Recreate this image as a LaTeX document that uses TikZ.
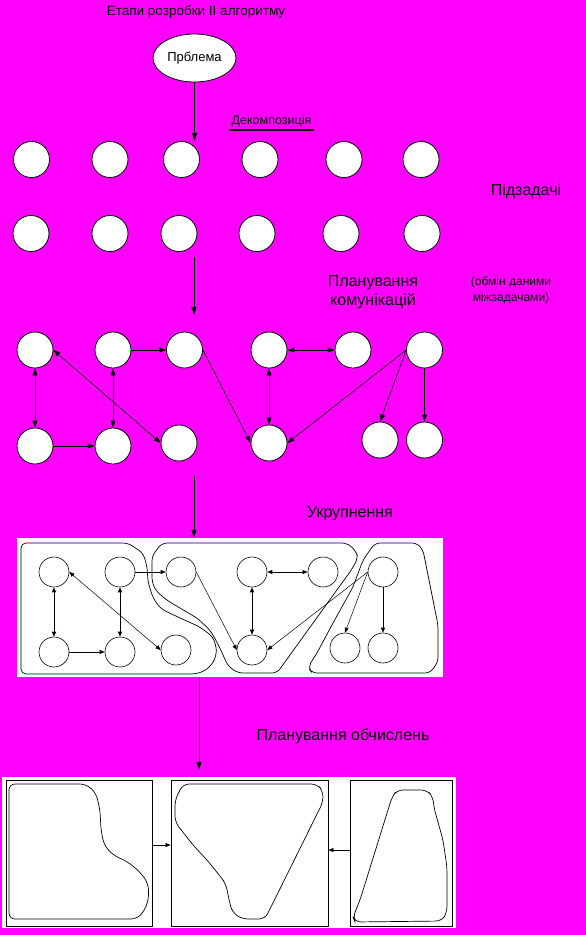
\documentclass[tikz,border=0pt]{standalone}
\usepackage{fontspec}
\setmainfont{Liberation Sans}
\usepackage{tikz}
\usetikzlibrary{arrows.meta,positioning,shapes.geometric}
\definecolor{StageMagenta}{HTML}{FF00FF}
\definecolor{StageInk}{HTML}{000000}
\tikzset{
  task/.style={circle,draw=StageInk,line width=0.8pt,fill=white,minimum size=36pt,inner sep=0pt},
  subtask/.style={circle,draw=StageInk,line width=0.6pt,fill=white,minimum size=30pt,inner sep=0pt},
  stagelabel/.style={font=\fontsize{16}{19}\selectfont,align=center,inner sep=0pt},
  stagearrow/.style={-{Triangle[length=8pt,width=5pt]},line width=0.9pt,draw=StageInk},
  commarrow/.style={-{Triangle[length=7pt,width=5pt]},line width=0.9pt,draw=StageInk},
  commboth/.style={{Triangle[length=7pt,width=5pt]}-{Triangle[length=7pt,width=5pt]},line width=0.9pt,draw=StageInk},
  commdiag/.style={-{Triangle[length=7pt,width=5pt]},line width=0.6pt,draw=StageInk},
  commdiagboth/.style={{Triangle[length=7pt,width=5pt]}-{Triangle[length=7pt,width=5pt]},line width=0.6pt,draw=StageInk},
  grouparrow/.style={-{Triangle[length=5pt,width=4pt]},line width=0.7pt,draw=StageInk},
  groupboth/.style={{Triangle[length=5pt,width=4pt]}-{Triangle[length=5pt,width=4pt]},line width=0.7pt,draw=StageInk},
  groupdiag/.style={-{Triangle[length=5pt,width=4pt]},line width=0.5pt,draw=StageInk},
  groupdiagboth/.style={{Triangle[length=5pt,width=4pt]}-{Triangle[length=5pt,width=4pt]},line width=0.5pt,draw=StageInk},
  outline/.style={draw=StageInk,line width=0.7pt,rounded corners=5pt},
  procframe/.style={rectangle,draw=StageInk,line width=0.9pt,fill=white,inner sep=0pt,minimum height=146pt},
  whitepanel/.style={rectangle,fill=white,inner sep=0pt}
}
\begin{document}
\begin{tikzpicture}[x=1pt,y=-1pt]
\useasboundingbox (0,0) rectangle (586,935);
\fill[StageMagenta] (0,0) rectangle (586,935);
\node[font=\fontsize{13.5}{15}\selectfont] (title) at (196,12) {Етапи розробки ІІ алгоритму};
\node[ellipse,draw=StageInk,line width=0.8pt,fill=white,minimum width=83pt,minimum height=48pt,inner sep=0pt,font=\fontsize{13}{15}\selectfont] (prob) at (194.5,58) {Прблема};
\node[font=\fontsize{12.5}{14}\selectfont,anchor=south,minimum width=83pt,inner sep=3pt] (decomp) at (271.5,130) {Декомпозиція};
\draw[line width=2.5pt] (decomp.south west) -- (decomp.south east);
\node[task] (r1a) at (31.5,159.5) {};
\node[task] (r1b) at (110,159.5) {};
\node[task] (r1c) at (181.5,159.5) {};
\node[task] (r1d) at (260,159.5) {};
\node[task] (r1e) at (344,159.5) {};
\node[task] (r1f) at (421,159.5) {};
\node[task] (r2a) at (31,233.5) {};
\node[task] (r2b) at (110,233.5) {};
\node[task] (r2c) at (179,233.5) {};
\node[task] (r2d) at (257,233.5) {};
\node[task] (r2e) at (341,233.5) {};
\node[task] (r2f) at (422,233.5) {};
\node[stagelabel] (subs) at (526,191) {Підзадачі};
\node[stagelabel] (comms) at (373,292) {Планування\\комунікацій};
\node[font=\fontsize{12}{16}\selectfont,align=center,inner sep=0pt] (exch) at (511,290) {(обмін даними\\міжзадачами)};
\draw[stagearrow] (prob.south) -- (prob.south |- r1c.north);
\coordinate (tail2) at (194,257);
\coordinate (tip2) at (194,315);
\draw[stagearrow] (tail2) -- (tip2);
\node[task] (t1) at (35,350) {};
\node[task] (t2) at (113,350) {};
\node[task] (t3) at (184.5,350) {};
\node[task] (t4) at (269,350) {};
\node[task] (t5) at (353,350) {};
\node[task] (t6) at (424.5,350) {};
\node[task] (b1) at (35,446) {};
\node[task] (b2) at (113,446) {};
\node[task] (b3) at (179,443) {};
\node[task] (b4) at (269,443) {};
\node[task] (b5) at (380,440) {};
\node[task] (b6) at (424.5,440) {};
\draw[commboth] (t1.south) -- (b1.north);
\draw[commboth] (t2.south) -- (b2.north);
\draw[commarrow] (b1.east) -- (b2.west);
\draw[commarrow] (t2.east) -- (t3.west);
\draw[commdiagboth] (t1.east) -- (b3.west);
\draw[commdiag] (t3.east) -- (b4.west);
\draw[commboth] (t4.south) -- (b4.north);
\draw[commboth] (t4.east) -- (t5.west);
\draw[commdiag] (t6.west) -- (b4.east);
\draw[commdiag] (t6.west) -- (b5.north);
\draw[commarrow] (t6.south) -- (b6.north);
\node[stagelabel] (merge) at (350,514) {Укрупнення};
\node[whitepanel,minimum width=426pt,minimum height=139pt] (merged) at (230,607.5) {};
\coordinate (tail3) at (194,476);
\draw[stagearrow] (tail3) -- (tail3 |- merged.north);
\draw[outline] (21,543) -- (128,543) -- (143,553) -- (147,566) -- (148,582) -- (153,598) -- (161,609) -- (178,617) -- (200,627) -- (213,637) -- (217,650) -- (214,662) -- (205,671) -- (195,674) -- (21,674) -- cycle;
\draw[outline] (162,543) -- (347,543) -- (356,551) -- (358,558) -- (352,569) -- (277,673) -- (238,673) -- (228,666) -- (224,657) -- (218,644) -- (210,630) -- (197,618) -- (168,601) -- (156,591) -- (152,582) -- (152,556) -- cycle;
\draw[outline] (375,543) -- (417,543) -- (423,550) -- (433,600) -- (438,625) -- (438,662) -- (430,673) -- (312,673) -- (308,667) -- (317,653) -- (333,623) -- (353,587) -- (363,560) -- cycle;
\node[subtask] (m1) at (54,572) {};
\node[subtask] (m2) at (120,572) {};
\node[subtask] (m3) at (181,572) {};
\node[subtask] (m4) at (252,572) {};
\node[subtask] (m5) at (323,572) {};
\node[subtask] (m6) at (383,572) {};
\node[subtask] (n1) at (54,652) {};
\node[subtask] (n2) at (120,652) {};
\node[subtask] (n3) at (176,650) {};
\node[subtask] (n4) at (252,650) {};
\node[subtask] (n5) at (345,648) {};
\node[subtask] (n6) at (383,648) {};
\draw[groupboth] (m1.south) -- (n1.north);
\draw[groupboth] (m2.south) -- (n2.north);
\draw[grouparrow] (n1.east) -- (n2.west);
\draw[grouparrow] (m2.east) -- (m3.west);
\draw[groupdiagboth] (m1.east) -- (n3.west);
\draw[groupdiag] (m3.east) -- (n4.west);
\draw[groupboth] (m4.south) -- (n4.north);
\draw[groupboth] (m4.east) -- (m5.west);
\draw[groupdiag] (m6.west) -- (n4.east);
\draw[groupdiag] (m6.west) -- (n5.north);
\draw[grouparrow] (m6.south) -- (n6.north);
\node[stagelabel] (sched) at (343,736) {Планування обчислень};
\node[whitepanel,minimum width=454pt,minimum height=151pt] (strip) at (229,852.5) {};
\coordinate (tip4) at (199,770);
\draw[stagearrow] (merged.south -| tip4) -- (tip4);
\node[procframe,minimum width=146pt] (proc1) at (79,853) {};
\node[procframe,minimum width=157pt] (proc2) at (249.5,853) {};
\node[procframe,minimum width=102pt] (proc3) at (401,853) {};
\draw[grouparrow] ([yshift=8pt]proc1.east) -- ([yshift=8pt]proc2.west);
\draw[grouparrow] ([yshift=3pt]proc3.west) -- ([yshift=3pt]proc2.east);
\draw[outline,rounded corners=6pt] (9,784) -- (86,784) -- (96,793) -- (100,810) -- (101,830) -- (104,845) -- (113,855) -- (128,862) -- (140,872) -- (148,883) -- (149,897) -- (145,910) -- (137,919) -- (9,919) -- cycle;
\draw[outline,rounded corners=6pt] (183,784) -- (317,784) -- (323,791) -- (323,802) -- (265,919) -- (242,919) -- (232,912) -- (228,895) -- (226,884) -- (220,876) -- (207,860) -- (193,845) -- (175,822) -- (175,800) -- cycle;
\draw[outline,rounded corners=6pt] (397,790) -- (427,790) -- (433,797) -- (434,808) -- (443,840) -- (447,867) -- (447,912) -- (442,921) -- (355,922) -- (353,917) -- (360,900) -- (392,797) -- cycle;
\end{tikzpicture}
\end{document}
